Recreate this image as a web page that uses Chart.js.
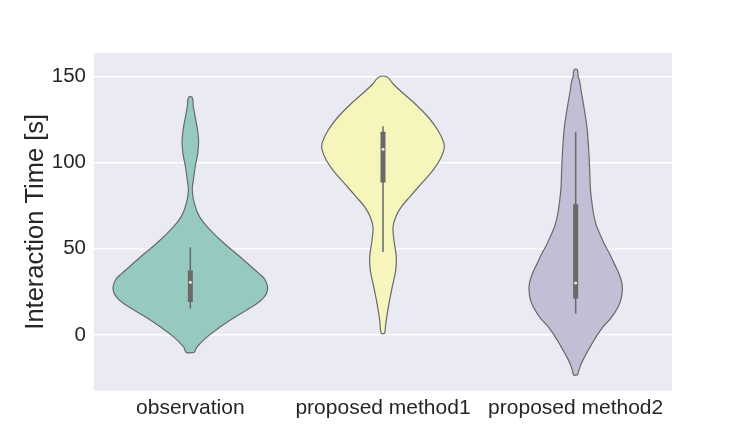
<!DOCTYPE html>
<html>
<head>
<meta charset="utf-8">
<script src="https://cdn.jsdelivr.net/npm/chart.js@4.4.0/dist/chart.umd.min.js"></script>
<style>
  html, body { margin: 0; padding: 0; background: #ffffff; }
  #wrap { width: 747px; height: 440px; }
</style>
</head>
<body>
<div id="wrap"><canvas id="violins"></canvas></div>
<script>
// categories along the x axis
const categories = ['observation', 'proposed method1', 'proposed method2'];
const yTickValues = [0, 50, 100, 150];

// density outlines: y level [s] and half width (in category units)
const obsLevels = [-10, -6.8, -1.0, 4.8, 10.6, 16.4, 19.3, 22.2, 25.0, 28.0, 31.8, 34.7, 37.6, 45.3, 53.1, 60.8, 68.5, 76.3, 84.0, 90, 98, 105, 112.5, 120, 127.8, 132, 137.8];
const obsWidths = [0.021, 0.035, 0.087, 0.156, 0.234, 0.320, 0.358, 0.384, 0.398, 0.401, 0.389, 0.367, 0.337, 0.259, 0.176, 0.104, 0.048, 0.021, 0.010, 0.016, 0.026, 0.038, 0.043, 0.036, 0.023, 0.016, 0.009];

const m1Levels = [1.0, 8.7, 18.4, 28.0, 37.6, 45.3, 55.0, 62.7, 68.5, 74.3, 80.1, 87.8, 95.5, 101.3, 107.1, 111.0, 118.7, 126.4, 134.2, 141.9, 145.7, 149.6];
const m1Widths = [0.009, 0.017, 0.031, 0.048, 0.066, 0.069, 0.057, 0.052, 0.066, 0.095, 0.139, 0.199, 0.259, 0.294, 0.315, 0.317, 0.285, 0.234, 0.165, 0.087, 0.052, 0.021];

const m2Levels = [-23.1, -20, -16.3, -12, -6.7, -1, 4.8, 10, 16.3, 21, 26, 30, 35.6, 41, 47.1, 53, 58.7, 64, 70.2, 78, 85.5, 95, 104.8, 112, 120.1, 128, 135.5, 141, 147.1, 150, 153.8];
const m2Widths = [0.010, 0.018, 0.030, 0.049, 0.076, 0.106, 0.142, 0.184, 0.220, 0.236, 0.242, 0.240, 0.225, 0.202, 0.176, 0.148, 0.125, 0.106, 0.093, 0.083, 0.076, 0.073, 0.069, 0.065, 0.059, 0.049, 0.038, 0.029, 0.021, 0.013, 0.008];

// inner box summaries: whisker low/high, quartiles, median
const whiskerLow = [15.4, 48.1, 12.5];
const whiskerHigh = [50.9, 121.1, 117.8];
const q1 = [19.2, 88.5, 21.2];
const q3 = [37.5, 117.8, 75.9];
const medians = [30.7, 107.7, 30.2];

const fills = ['#96cac1', '#f5f5bc', '#c1bed6'];
const gray = '#696969';

function outline(center, levels, widths) {
  const pts = [];
  for (let i = 0; i < levels.length; i++) pts.push({ x: center + widths[i], y: levels[i] });
  for (let i = levels.length - 1; i >= 0; i--) pts.push({ x: center - widths[i], y: levels[i] });
  pts.push(pts[0]);
  return pts;
}

const shapes = [
  [obsLevels, obsWidths],
  [m1Levels, m1Widths],
  [m2Levels, m2Widths]
];

// lower "order" is drawn on top
const datasets = [];
shapes.forEach((s, i) => {
  datasets.push({
    type: 'line',
    order: 4,
    data: outline(i, s[0], s[1]),
    backgroundColor: fills[i],
    borderColor: gray,
    borderWidth: 1.2,
    fill: 'shape',
    tension: 0.4,
    pointRadius: 0
  });
  datasets.push({
    type: 'line',
    order: 3,
    data: [{ x: i, y: whiskerLow[i] }, { x: i, y: whiskerHigh[i] }],
    borderColor: gray,
    borderWidth: 1.5,
    pointRadius: 0
  });
  datasets.push({
    type: 'line',
    order: 2,
    data: [{ x: i, y: q1[i] }, { x: i, y: q3[i] }],
    borderColor: gray,
    borderWidth: 5,
    borderCapStyle: 'butt',
    pointRadius: 0
  });
  datasets.push({
    type: 'scatter',
    order: 1,
    data: [{ x: i, y: medians[i] }],
    backgroundColor: '#e8e8e8',
    borderWidth: 0,
    pointRadius: 1.5
  });
});

// grey panel behind the plot
const panelBg = {
  id: 'panelBg',
  beforeDraw(chart) {
    const a = chart.chartArea;
    const ctx = chart.ctx;
    ctx.save();
    ctx.fillStyle = '#eaeaf2';
    ctx.fillRect(a.left, a.top, a.right - a.left, a.bottom - a.top);
    ctx.restore();
  }
};

const textColor = '#262626';
const fontFamily = '"Liberation Sans", Arial, sans-serif';

new Chart(document.getElementById('violins'), {
  type: 'scatter',
  data: { datasets: datasets },
  options: {
    responsive: true,
    maintainAspectRatio: false,
    animation: false,
    events: [],
    layout: { padding: { top: 53, right: 75, left: 0, bottom: 0 } },
    plugins: { legend: { display: false }, tooltip: { enabled: false } },
    scales: {
      x: {
        type: 'linear',
        min: -0.5,
        max: 2.5,
        afterBuildTicks: scale => { scale.ticks = categories.map((c, i) => ({ value: i })); },
        afterFit: scale => { scale.height = 49.5; },
        grid: { display: false, drawTicks: false },
        border: { display: false },
        ticks: {
          color: textColor,
          font: { family: fontFamily, size: 21 },
          padding: 5,
          maxRotation: 0,
          callback: v => categories[v]
        }
      },
      y: {
        type: 'linear',
        min: -32.1,
        max: 163.5,
        afterBuildTicks: scale => { scale.ticks = yTickValues.map(v => ({ value: v })); },
        afterFit: scale => { scale.width = 94; },
        grid: { color: '#ffffff', lineWidth: 1.4, drawTicks: false },
        border: { display: false },
        ticks: {
          color: textColor,
          font: { family: fontFamily, size: 20.5 },
          padding: 8
        },
        title: {
          display: true,
          text: 'Interaction Time [s]',
          color: textColor,
          font: { family: fontFamily, size: 25.5 },
          padding: { top: 21, bottom: 0 }
        }
      }
    }
  },
  plugins: [panelBg]
});
</script>
</body>
</html>
